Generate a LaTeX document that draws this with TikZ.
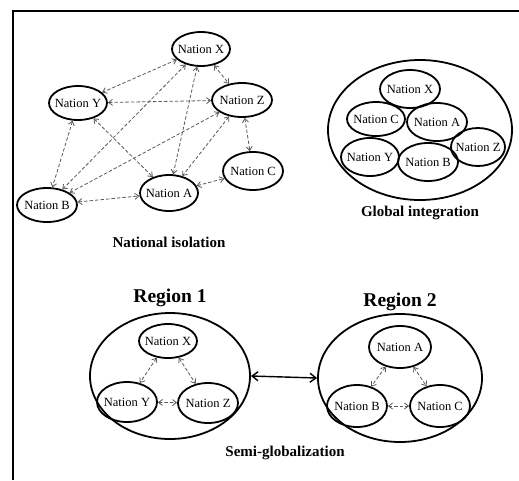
\documentclass[tikz,border=0pt]{standalone}
\usepackage{fontspec}
\setmainfont{Liberation Serif}
\usetikzlibrary{arrows.meta, shapes.geometric}

\newcommand{\nat}[1]{\makebox[0pt]{Nation #1}}

\begin{document}
\begin{tikzpicture}[x=1pt, y=-1pt,
  nation/.style={ellipse, draw, line width=1.8pt, inner sep=0pt, minimum width=58pt, minimum height=34pt, font=\fontsize{12.5}{14}\selectfont},
  bigell/.style={ellipse, draw, line width=1.8pt, inner sep=0pt},
  link/.style={{Straight Barb[length=4pt, width=6pt]}-{Straight Barb[length=4pt, width=6pt]}, dash pattern=on 3.5pt off 2pt, black!65, line width=0.8pt},
  caption/.style={font=\bfseries\fontsize{15}{17}\selectfont},
  regtitle/.style={font=\bfseries\fontsize{19.5}{22}\selectfont}]

\useasboundingbox (0,0) rectangle (519,480);

% Frame
\draw[line width=2pt] (13,480) -- (13,11) -- (519,11);

% National isolation
\node[nation] (isoX) at (201,49) {\nat{X}};
\node[nation] (isoY) at (78,103) {\nat{Y}};
\node[nation, minimum width=60pt] (isoZ) at (242,100) {\nat{Z}};
\node[nation, minimum width=60pt, minimum height=38pt] (isoC) at (253,171) {\nat{C}};
\node[nation, minimum height=36pt] (isoA) at (169,193) {\nat{A}};
\node[nation, minimum width=60pt] (isoB) at (47,205) {\nat{B}};

\draw[link] (isoX) -- (isoY);
\draw[link] (isoX) -- (isoZ);
\draw[link] (isoX) -- (isoB);
\draw[link] (isoX) -- (isoA);
\draw[link] (isoY) -- (isoZ);
\draw[link] (isoY) -- (isoA);
\draw[link] (isoY) -- (isoB);
\draw[link] (isoZ) -- (isoB);
\draw[link] (isoZ) -- (isoA);
\draw[link] (isoZ) -- (isoC);
\draw[link] (isoA) -- (isoC);
\draw[link] (isoB) -- (isoA);

\node[caption] (lbliso) at (169,242) {National isolation};

% Global integration
\node[bigell, minimum width=184pt, minimum height=140pt] (glob) at (420,130) {};
\node[nation, minimum width=60pt, minimum height=38pt] (gloX) at (410,89) {\nat{X}};
\node[nation] (gloC) at (376,119) {\nat{C}};
\node[nation, minimum width=60pt, minimum height=38pt] (gloA) at (437,122) {\nat{A}};
\node[nation, minimum width=54pt, minimum height=38pt] (gloZ) at (478,147) {\nat{Z}};
\node[nation, minimum height=38pt] (gloY) at (370,157) {\nat{Y}};
\node[nation, minimum width=60pt, minimum height=38pt] (gloB) at (428,162) {\nat{B}};

\node[caption] (lblglob) at (420,213) {Global integration};

% Semi-globalization: region 1
\node[regtitle] (lblreg1) at (170,298) {Region 1};
\node[bigell, minimum width=160pt, minimum height=126pt] (reg1) at (170,376) {};
\node[nation] (r1X) at (168,341) {\nat{X}};
\node[nation, minimum width=60pt, minimum height=40pt] (r1Y) at (127,402) {\nat{Y}};
\node[nation, minimum width=60pt, minimum height=40pt] (r1Z) at (208,403) {\nat{Z}};

\draw[link] (r1X) -- (r1Y);
\draw[link] (r1X) -- (r1Z);
\draw[link] (r1Y) -- (r1Z);

% Semi-globalization: region 2
\node[regtitle] (lblreg2) at (400,302) {Region 2};
\node[bigell, minimum width=164pt, minimum height=128pt] (reg2) at (400,378) {};
\node[nation, minimum width=62pt, minimum height=42pt] (r2A) at (400,347) {\nat{A}};
\node[nation, minimum width=60pt, minimum height=42pt] (r2B) at (357,406) {\nat{B}};
\node[nation, minimum width=60pt, minimum height=42pt] (r2C) at (440,406) {\nat{C}};

\draw[link] (r2A) -- (r2B);
\draw[link] (r2A) -- (r2C);
\draw[link] (r2B) -- (r2C);

% Link between regions
\draw[{Straight Barb[length=6pt, width=9pt]}-{Straight Barb[length=6pt, width=9pt]}, line width=1.4pt] (reg1.east) -- (reg2.west);

\node[caption] (lblsemi) at (285,453) {Semi-globalization};
\end{tikzpicture}
\end{document}
